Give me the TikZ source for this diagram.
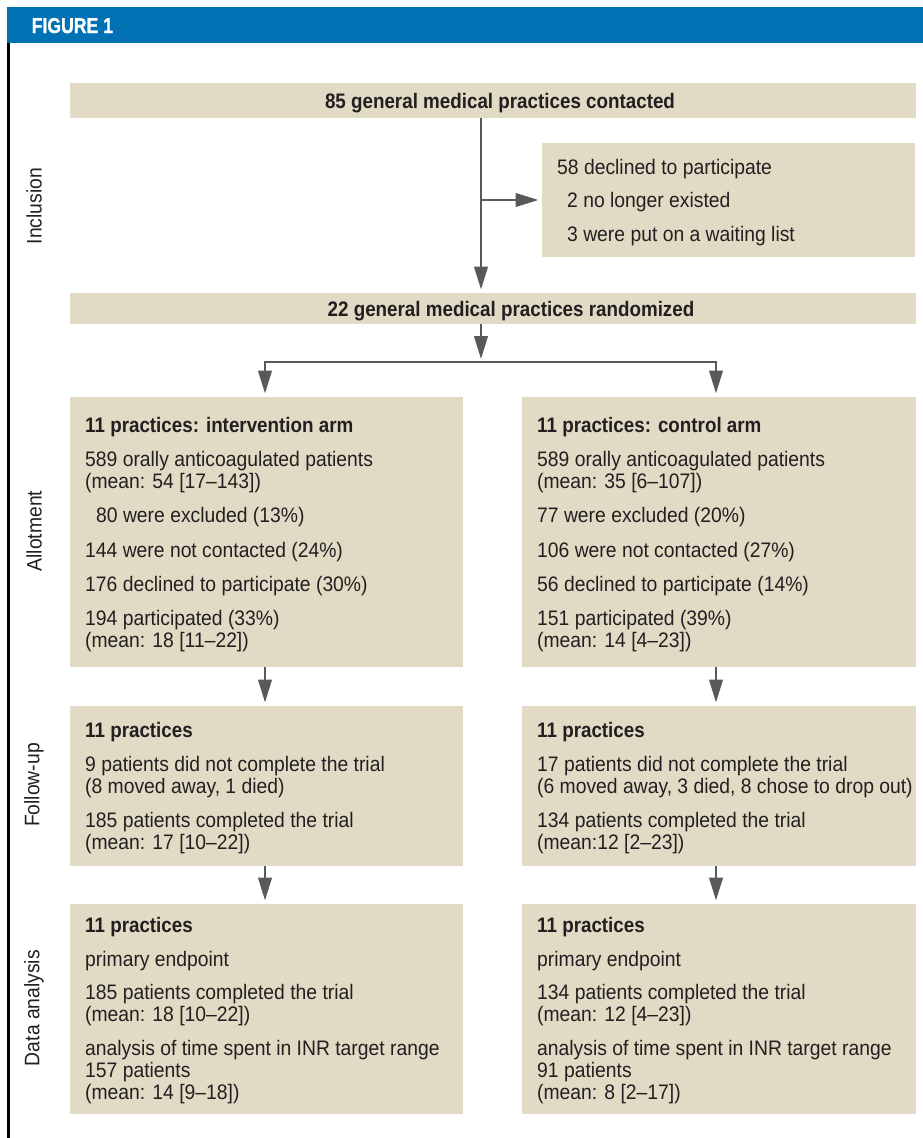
\documentclass[tikz,border=0pt]{standalone}
\usepackage{fontspec}
\setmainfont{Liberation Sans}[FakeStretch=0.92, BoldFeatures={FakeStretch=0.895}]
\newfontfamily\figfont{Liberation Sans}[FakeStretch=0.82, BoldFeatures={FakeStretch=0.82, FakeBold=1.2}]
\usetikzlibrary{arrows.meta}
\definecolor{boxfill}{RGB}{225,219,197}
\definecolor{arrgray}{RGB}{88,89,91}
\definecolor{txtc}{RGB}{35,31,32}
\definecolor{figblue}{RGB}{0,113,179}
\begin{document}
\begin{tikzpicture}[x=1pt,y=-1pt,
  box/.style={fill=boxfill, draw=none, inner sep=0pt, outer sep=0pt, anchor=north west},
  body/.style={inner sep=0pt, anchor=north west, align=left, text=txtc, font=\fontsize{21}{22}\selectfont},
  single/.style={inner sep=0pt, anchor=base, text=txtc, font=\fontsize{21}{22}\selectfont\bfseries},
  side/.style={rotate=90, inner sep=0pt, text=txtc, font=\fontsize{21}{22}\selectfont},
  conn/.style={draw=arrgray, line width=2.6pt},
  arr/.style={conn, -{Triangle[length=23pt,width=13.5pt]}, shorten >=3.5pt}]
\useasboundingbox (0,0) rectangle (923,1138);
\fill[white] (0,0) rectangle (923,1138);
% header
\fill[figblue] (7.3,7) rectangle (923,43);
\node[inner sep=0pt, anchor=base west, text=white, font=\fontsize{21.5}{22}\figfont\bfseries] (fig) at (31.5,33) {FIGURE 1};
\draw[black, line width=2.7pt] (8.7,43) -- (8.7,1138);
% side labels
\node[side] (lInc) at (34,206) {Inclusion};
\node[side] (lAll) at (34,531) {Allotment};
\node[side] (lFol) at (34,785) {Follow-up};
\node[side] (lDat) at (34,1008) {Data analysis};
% boxes
\node[box, minimum width=846pt, minimum height=35pt] (b1) at (70,83) {};
\node[box, minimum width=373pt, minimum height=114pt] (excl) at (542,143) {};
\node[box, minimum width=846pt, minimum height=31pt] (b2) at (70,293) {};
\node[box, minimum width=393pt, minimum height=270pt] (aL) at (70,397) {};
\node[box, minimum width=394pt, minimum height=270pt] (aR) at (522,397) {};
\node[box, minimum width=393pt, minimum height=160pt] (fL) at (70,706) {};
\node[box, minimum width=394pt, minimum height=160pt] (fR) at (522,706) {};
\node[box, minimum width=393pt, minimum height=210pt] (dL) at (70,904) {};
\node[box, minimum width=394pt, minimum height=210pt] (dR) at (522,904) {};
% texts
\node[single] (t1) at (500,108) {85 general medical practices contacted};
\node[single] (t2) at (511,316) {22 general medical practices randomized};
\node[body] (tex) at (557,158.6) {\strut 58 declined to participate\\[11.5pt]
\hspace*{10pt}2 no longer existed\\[11.5pt]
\hspace*{10pt}3 were put on a waiting list};
\node[body] (taL) at (85,416.6) {\strut\textbf{11 practices: intervention arm}\\[12.3pt]
589 orally anticoagulated patients\\
(mean: 54 [17–143])\\[12.3pt]
\hspace*{11pt}80 were excluded (13\%)\\[12.3pt]
144 were not contacted (24\%)\\[12.3pt]
176 declined to participate (30\%)\\[12.3pt]
194 participated (33\%)\\
(mean: 18 [11–22])};
\node[body] (taR) at (537,416.6) {\strut\textbf{11 practices: control arm}\\[12.3pt]
589 orally anticoagulated patients\\
(mean: 35 [6–107])\\[12.3pt]
77 were excluded (20\%)\\[12.3pt]
106 were not contacted (27\%)\\[12.3pt]
56 declined to participate (14\%)\\[12.3pt]
151 participated (39\%)\\
(mean: 14 [4–23])};
\node[body] (tfL) at (85,721.6) {\strut\textbf{11 practices}\\[12.3pt]
9 patients did not complete the trial\\
(8 moved away, 1 died)\\[12.3pt]
185 patients completed the trial\\
(mean: 17 [10–22])};
\node[body] (tfR) at (537,721.6) {\strut\textbf{11 practices}\\[12.3pt]
17 patients did not complete the trial\\
(6 moved away, 3 died, 8 chose to drop out)\\[12.3pt]
134 patients completed the trial\\
(mean:12 [2–23])};
\node[body] (tdL) at (85,916.6) {\strut\textbf{11 practices}\\[11.8pt]
primary endpoint\\[11.8pt]
185 patients completed the trial\\
(mean: 18 [10–22])\\[11.8pt]
analysis of time spent in INR target range\\
157 patients\\
(mean: 14 [9–18])};
\node[body] (tdR) at (537,916.6) {\strut\textbf{11 practices}\\[11.8pt]
primary endpoint\\[11.8pt]
134 patients completed the trial\\
(mean: 12 [4–23])\\[11.8pt]
analysis of time spent in INR target range\\
91 patients\\
(mean: 8 [2–17])};
% connectors
\coordinate (spine) at (481,0);
\coordinate (sL) at (265,362);
\coordinate (sR) at (716,362);
\draw[arr] (b1.south -| spine) -- (b2.north -| spine);
\draw[arr] (spine |- excl.west) -- (excl.west);
\draw[arr, shorten >=3pt] (b2.south -| spine) -- (spine |- sL);
\draw[arr] (sR) -- (sL) -- (sL |- aL.north);
\draw[arr] (sL) -- (sR) -- (sR |- aR.north);
\draw[arr] (aL.south -| sL) -- (fL.north -| sL);
\draw[arr] (aR.south -| sR) -- (fR.north -| sR);
\draw[arr] (fL.south -| sL) -- (dL.north -| sL);
\draw[arr] (fR.south -| sR) -- (dR.north -| sR);
\end{tikzpicture}
\end{document}
